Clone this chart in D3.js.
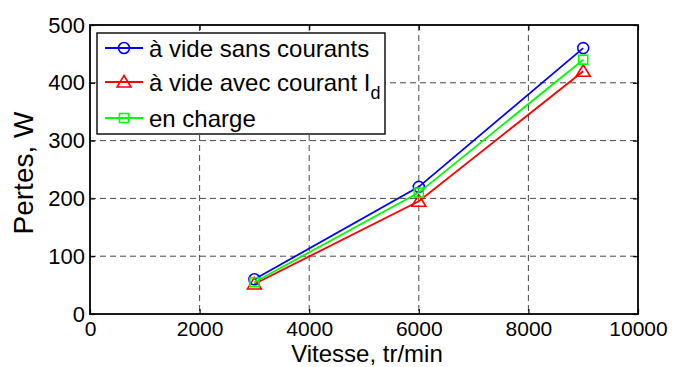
<!DOCTYPE html>
<html>
<head>
<meta charset="utf-8">
<script src="https://cdn.jsdelivr.net/npm/d3@7"></script>
<style>
  body { margin: 0; background: #fff; }
  svg { font-family: "Liberation Sans", Arial, sans-serif; }
</style>
</head>
<body>
<div id="chart"></div>
<script>
// data
var vitesse = [3000, 6000, 9000];
var sansCourant = [60, 220, 460];
var avecCourant = [52, 195, 420];
var enCharge = [55, 210, 440];
var xTicks = [0, 2000, 4000, 6000, 8000, 10000];
var yTicks = [0, 100, 200, 300, 400, 500];

var W = 674, H = 367;
var margin = { top: 25, right: 36, bottom: 53, left: 90 },
  width = W - margin.left - margin.right,
  height = H - margin.top - margin.bottom;

var svg = d3.select("#chart").append("svg")
  .attr("width", W).attr("height", H);

var g = svg.append("g")
  .attr("transform", "translate(" + margin.left + "," + margin.top + ")");

var x = d3.scaleLinear().domain([0, 10000]).range([0, width]);
var y = d3.scaleLinear().domain([0, 500]).range([height, 0]);

// grid
g.append("g").selectAll("line").data(xTicks.slice(1, -1)).enter().append("line")
  .attr("x1", function (d) { return x(d); }).attr("x2", function (d) { return x(d); })
  .attr("y1", 0).attr("y2", height)
  .style("stroke", "#333").style("stroke-width", 0.9).style("stroke-dasharray", "6,4");
g.append("g").selectAll("line").data(yTicks.slice(1, -1)).enter().append("line")
  .attr("y1", function (d) { return y(d); }).attr("y2", function (d) { return y(d); })
  .attr("x1", 0).attr("x2", width)
  .style("stroke", "#333").style("stroke-width", 0.9).style("stroke-dasharray", "6,4");

// axes (ticks inside)
var xAxis = g.append("g").attr("transform", "translate(0," + height + ")")
  .call(d3.axisBottom(x).tickValues(xTicks).tickSize(-5).tickPadding(7).tickFormat(d3.format("d")));
var xAxisTop = g.append("g")
  .call(d3.axisTop(x).tickValues(xTicks).tickSize(-5).tickFormat(""));
var yAxis = g.append("g")
  .call(d3.axisLeft(y).tickValues(yTicks).tickSize(-5).tickPadding(5).tickFormat(d3.format("d")));
var yAxisRight = g.append("g").attr("transform", "translate(" + width + ",0)")
  .call(d3.axisRight(y).tickValues(yTicks).tickSize(-5).tickFormat(""));

[xAxis, xAxisTop, yAxis, yAxisRight].forEach(function (a) {
  a.select(".domain").remove();
  a.selectAll(".tick line").style("stroke", "#000").style("stroke-width", 1.2);
  a.selectAll("text").style("font-size", "22px").style("fill", "#000")
    .style("font-family", "Liberation Sans, Arial, sans-serif");
});
xAxis.selectAll("text").style("font-size", "21px");

g.append("rect").attr("width", width).attr("height", height)
  .style("fill", "none").style("stroke", "#000").style("stroke-width", 1.8);

// lines
var series = [
  { name: "sans", values: sansCourant, color: "#0000ff", marker: "circle" },
  { name: "avec", values: avecCourant, color: "#ff0000", marker: "triangle" },
  { name: "charge", values: enCharge, color: "#00ff00", marker: "square" }
];

var line = d3.line()
  .x(function (d) { return x(d[0]); })
  .y(function (d) { return y(d[1]); });

function drawMarker(sel, type, color) {
  if (type === "circle") {
    sel.append("circle").attr("r", 5.5);
  } else if (type === "triangle") {
    sel.append("path").attr("d", "M0,-6.5L7,5L-7,5Z");
  } else {
    sel.append("rect").attr("x", -4.5).attr("y", -4.5).attr("width", 9).attr("height", 9);
  }
  sel.selectAll("*").style("fill", "none").style("stroke", color).style("stroke-width", 1.6);
}

series.forEach(function (s) {
  var pts = vitesse.map(function (v, i) { return [v, s.values[i]]; });
  g.append("path").datum(pts).attr("d", line)
    .style("fill", "none").style("stroke", s.color).style("stroke-width", 1.8);
  pts.forEach(function (p) {
    var m = g.append("g").attr("transform", "translate(" + x(p[0]) + "," + y(p[1]) + ")");
    drawMarker(m, s.marker, s.color);
  });
});

// legend
var lg = svg.append("g").attr("transform", "translate(97,33)");
lg.append("rect").attr("width", 288).attr("height", 101)
  .style("fill", "#fff").style("stroke", "#000").style("stroke-width", 1.4);
var rowsY = [15, 49, 85];
var labels = ["à vide sans courants", "à vide avec courant I", "en charge"];
series.forEach(function (s, i) {
  var row = lg.append("g").attr("transform", "translate(0," + rowsY[i] + ")");
  row.append("line").attr("x1", 8).attr("x2", 46).attr("y1", 0).attr("y2", 0)
    .style("stroke", s.color).style("stroke-width", 1.8);
  var m = row.append("g").attr("transform", "translate(27,0)");
  drawMarker(m, s.marker, s.color);
  var t = row.append("text").attr("x", 52).attr("y", 9)
    .style("font-size", "24px").style("fill", "#000").text(labels[i]);
  if (i === 1) {
    t.append("tspan").attr("dy", 8).style("font-size", "18px").text("d");
  }
});

// axis labels
svg.append("text").attr("x", margin.left + width / 2 + 3).attr("y", 362)
  .attr("text-anchor", "middle").style("font-size", "24px").text("Vitesse, tr/min");
svg.append("text")
  .attr("transform", "translate(33,173) rotate(-90)")
  .attr("text-anchor", "middle").style("font-size", "28px").text("Pertes, W");
</script>
</body>
</html>
